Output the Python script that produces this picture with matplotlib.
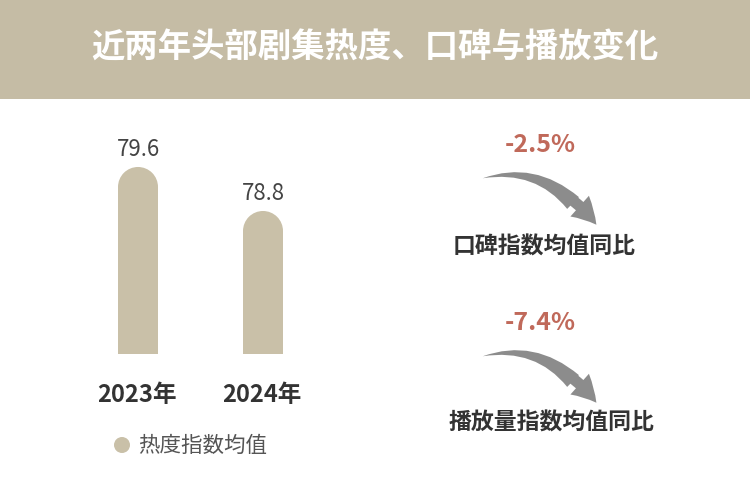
import matplotlib
matplotlib.use("Agg")
import matplotlib.pyplot as plt
from matplotlib.patches import Rectangle, Ellipse, FancyArrowPatch, Circle
from matplotlib import font_manager as fm

names = {f.name for f in fm.fontManager.ttflist}
fams = [n for n in ["Noto Sans CJK SC", "Noto Sans CJK JP", "Noto Sans CJK TC", "Noto Sans CJK KR"] if n in names]
plt.rcParams['font.family'] = fams + ["DejaVu Sans"]

title = "近两年头部剧集热度、口碑与播放变化"
years = ["2023年", "2024年"]
heat = [79.6, 78.8]
legend_label = "热度指数均值"
changes = ["-2.5%", "-7.4%"]
change_labels = ["口碑指数均值同比", "播放量指数均值同比"]

W, H = 750, 489
fig = plt.figure(figsize=(7.5, 4.89), dpi=100)
fig.patch.set_facecolor("white")
bg = fig.add_axes([0, 0, 1, 1])
bg.set_xlim(0, W); bg.set_ylim(H, 0); bg.axis("off")
bg.add_patch(Rectangle((0, 0), W, 100, color="#c5bca5", lw=0))
bg.text(W/2, 48, title, color="white", fontsize=24, fontweight="bold", ha="center", va="center")

barc = "#c9c0a8"
base = 76.2
k = 0.01818  # value per pixel
ax = fig.add_axes([90/W, (H-355)/H, 220/W, 255/H])
ax.set_xlim(-0.384, 1.376)
ax.set_ylim(base, base + 255*k)
ax.axis("off")
bw = 0.32
ry = 20*k
for i, v in enumerate(heat):
    ax.add_patch(Rectangle((i-bw/2, base), bw, v-ry-base, color=barc, lw=0))
    ax.add_patch(Ellipse((i, v-ry), bw, 2*ry, color=barc, lw=0))
    ax.text(i, v + 7*k, f"{v}", ha="center", va="bottom", fontsize=16, color="#444444")
    bg.text(137 + 125*i, 395, years[i], ha="center", va="center", fontsize=17, fontweight="bold", color="#333333")

bg.add_patch(Circle((122, 446), 8, color=barc, lw=0))
bg.text(138, 446, legend_label, ha="left", va="center", fontsize=15.5, color="#555555")

for j, (c, lab) in enumerate(zip(changes, change_labels)):
    dy = 178*j
    bg.text(540, 145+dy, c, ha="center", va="center", fontsize=18, fontweight="bold", color="#c0695a")
    arr = FancyArrowPatch((575, 206+dy), (480, 180+dy), connectionstyle="arc3,rad=0.3",
                          arrowstyle="wedge,tail_width=12,shrink_factor=0.5",
                          color="#8c8c8c", lw=0)
    bg.add_patch(arr)
    arr2 = FancyArrowPatch((565, 196+dy), (598, 228+dy), connectionstyle="arc3,rad=-0.1",
                           arrowstyle="simple,head_width=20,head_length=18,tail_width=8",
                           color="#8c8c8c", lw=0)
    bg.add_patch(arr2)
    bg.text(544 + 7*j, 247+dy - 2*j, lab, ha="center", va="center", fontsize=16.5, fontweight="bold", color="#333333")

fig.savefig("out.png", dpi=100)
